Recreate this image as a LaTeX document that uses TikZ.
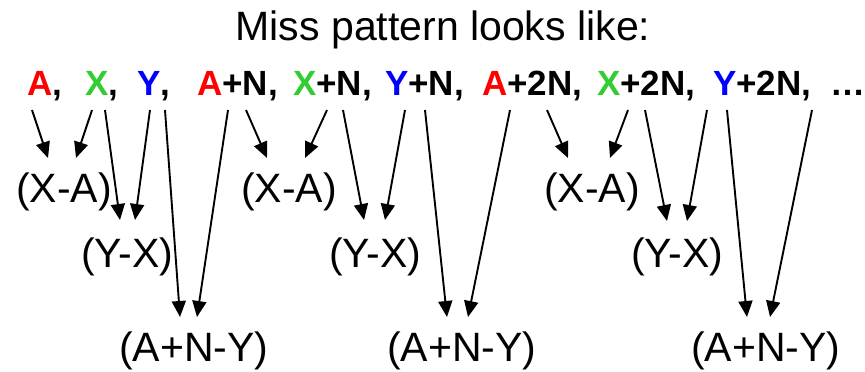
\documentclass[tikz,border=0pt]{standalone}
\usepackage{fontspec}
\setmainfont{Liberation Sans}
\usepackage{xcolor}
\usepackage{tikz}
\usetikzlibrary{arrows.meta, positioning}

\definecolor{seqred}{RGB}{255,0,0}
\definecolor{seqgreen}{RGB}{51,204,51}
\definecolor{seqblue}{RGB}{0,0,255}

\begin{document}
\begin{tikzpicture}[
    x=1pt, y=-1pt,
    % Global styles
    >=Triangle,
    titletext/.style={anchor=base, inner sep=0pt, font=\fontsize{41}{48}\selectfont},
    termtext/.style={anchor=base west, inner sep=0pt, font=\bfseries\fontsize{35}{42}\selectfont},
    difftext/.style={anchor=base west, inner sep=0pt, font=\fontsize{41}{48}\selectfont},
    arr/.style={-{Triangle[length=16pt, width=14pt]}, line width=1.9pt, color=black},
  ]
  \useasboundingbox (0,0) rectangle (865,372);

  % ====================================================================
  % TITLE
  % ====================================================================
  \node[titletext] (title) at (443, 40) {Miss pattern looks like:};

  % ====================================================================
  % ADDRESS SEQUENCE
  % ====================================================================
  \node[termtext] (ta1) at (27, 95)  {\textcolor{seqred}{A},};
  \node[termtext] (tx1) at (85, 95)  {\textcolor{seqgreen}{X},};
  \node[termtext] (ty1) at (137, 95) {\textcolor{seqblue}{Y},};
  \node[termtext] (ta2) at (197, 95) {\textcolor{seqred}{A}+N,};
  \node[termtext] (tx2) at (293, 95) {\textcolor{seqgreen}{X}+N,};
  \node[termtext] (ty2) at (385, 95) {\textcolor{seqblue}{Y}+N,};
  \node[termtext] (ta3) at (482, 95) {\textcolor{seqred}{A}+2N,};
  \node[termtext] (tx3) at (597, 95) {\textcolor{seqgreen}{X}+2N,};
  \node[termtext] (ty3) at (713, 95) {\textcolor{seqblue}{Y}+2N,};
  \node[termtext] (tdots) at (830, 95) {…};

  % ====================================================================
  % DIFFERENCES
  % ====================================================================
  \node[difftext] (xa1) at (16, 202)  {(X-A)};
  \node[difftext] (xa2) at (241, 202) {(X-A)};
  \node[difftext] (xa3) at (544, 202) {(X-A)};

  \node[difftext] (yx1) at (81, 267)  {(Y-X)};
  \node[difftext] (yx2) at (329, 267) {(Y-X)};
  \node[difftext] (yx3) at (631, 267) {(Y-X)};

  \node[difftext] (any1) at (119, 361) {(A+N-Y)};
  \node[difftext] (any2) at (387, 361) {(A+N-Y)};
  \node[difftext] (any3) at (691, 361) {(A+N-Y)};

  % ------- Arrows: first group -------
  \draw[arr] ([xshift=5pt, yshift=-15pt]ta1.base west) -- ([xshift=32pt, yshift=44pt]xa1.base west);
  \draw[arr] ([xshift=7pt, yshift=-15pt]tx1.base west) -- ([xshift=60pt, yshift=44pt]xa1.base west);
  \draw[arr] ([xshift=20pt, yshift=-15pt]tx1.base west) -- ([xshift=39pt, yshift=47pt]yx1.base west);
  \draw[arr] ([xshift=13pt, yshift=-15pt]ty1.base west) -- ([xshift=54pt, yshift=47pt]yx1.base west);
  \draw[arr] ([xshift=28pt, yshift=-15pt]ty1.base west) -- ([xshift=61pt, yshift=44pt]any1.base west);
  \draw[arr] ([xshift=31pt, yshift=-15pt]ta2.base west) -- ([xshift=78pt, yshift=44pt]any1.base west);

  % ------- Arrows: second group -------
  \draw[arr] ([xshift=49pt, yshift=-15pt]ta2.base west) -- ([xshift=26pt, yshift=44pt]xa2.base west);
  \draw[arr] ([xshift=34pt, yshift=-15pt]tx2.base west) -- ([xshift=64pt, yshift=44pt]xa2.base west);
  \draw[arr] ([xshift=50pt, yshift=-15pt]tx2.base west) -- ([xshift=35pt, yshift=47pt]yx2.base west);
  \draw[arr] ([xshift=20pt, yshift=-15pt]ty2.base west) -- ([xshift=56pt, yshift=47pt]yx2.base west);
  \draw[arr] ([xshift=40pt, yshift=-15pt]ty2.base west) -- ([xshift=60pt, yshift=44pt]any2.base west);
  \draw[arr] ([xshift=28pt, yshift=-15pt]ta3.base west) -- ([xshift=81pt, yshift=44pt]any2.base west);

  % ------- Arrows: third group -------
  \draw[arr] ([xshift=65pt, yshift=-15pt]ta3.base west) -- ([xshift=24pt, yshift=44pt]xa3.base west);
  \draw[arr] ([xshift=31pt, yshift=-15pt]tx3.base west) -- ([xshift=66pt, yshift=44pt]xa3.base west);
  \draw[arr] ([xshift=48pt, yshift=-15pt]tx3.base west) -- ([xshift=36pt, yshift=46pt]yx3.base west);
  \draw[arr] ([xshift=-6pt, yshift=-15pt]ty3.base west) -- ([xshift=56pt, yshift=46pt]yx3.base west);
  \draw[arr] ([xshift=14pt, yshift=-15pt]ty3.base west) -- ([xshift=56pt, yshift=44pt]any3.base west);
  \draw[arr] ([xshift=99pt, yshift=-15pt]ty3.base west) -- ([xshift=79pt, yshift=44pt]any3.base west);

\end{tikzpicture}
\end{document}
